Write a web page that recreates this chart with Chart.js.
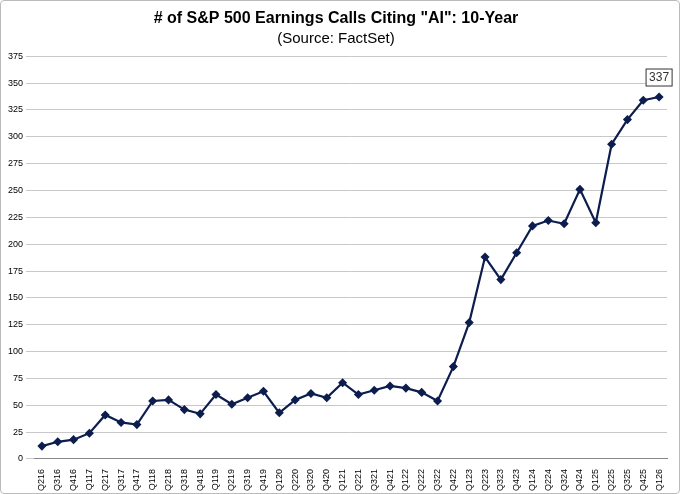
<!DOCTYPE html>
<html>
<head>
<script src="https://cdn.jsdelivr.net/npm/chart.js@4"></script>
<style>
  body { margin: 0; background: #fff; }
  #wrap { width: 678px; height: 492px; border: 1px solid #bbb; border-radius: 4px; }
</style>
</head>
<body>
<div id="wrap"><canvas id="myChart" width="678" height="492"></canvas></div>
<script>
const quarters = ['Q216','Q316','Q416','Q117','Q217','Q317','Q417','Q118','Q218','Q318','Q418','Q119','Q219','Q319','Q419','Q120','Q220','Q320','Q420','Q121','Q221','Q321','Q421','Q122','Q222','Q322','Q422','Q123','Q223','Q323','Q423','Q124','Q224','Q324','Q424','Q125','Q225','Q325','Q425','Q126'];
const aiCalls = [12,16,18,24,41,34,32,54,55,46,42,60,51,57,63,43,55,61,57,71,60,64,68,66,62,54,86,127,188,167,192,217,222,219,251,220,293,316,334,337];

const lastLabel = {
    id: 'lastLabel',
    afterDatasetsDraw(chart) {
        const ctx = chart.ctx;
        const pts = chart.getDatasetMeta(0).data;
        const p = pts[pts.length - 1];
        const txt = String(aiCalls[aiCalls.length - 1]);
        ctx.save();
        ctx.font = '12px Arial, "Liberation Sans"';
        const w = ctx.measureText(txt).width + 6;
        const x = p.x - w / 2, y = p.y - 28;
        ctx.fillStyle = '#fff';
        ctx.fillRect(x, y, w, 17);
        ctx.strokeStyle = '#333';
        ctx.lineWidth = 1;
        ctx.strokeRect(x, y, w, 17);
        ctx.fillStyle = '#333';
        ctx.textAlign = 'center';
        ctx.textBaseline = 'middle';
        ctx.fillText(txt, p.x, y + 9);
        ctx.restore();
    }
};

new Chart(document.getElementById('myChart'), {
    type: 'line',
    data: {
        labels: quarters,
        datasets: [{
            data: aiCalls,
            borderColor: '#0c1d4e',
            backgroundColor: '#0c1d4e',
            borderWidth: 2.2,
            pointStyle: 'rectRot',
            pointRadius: 3,
            tension: 0
        }]
    },
    options: {
        responsive: false,
        animation: false,
        layout: { padding: { left: 4, right: 12, top: 2, bottom: 0 } },
        plugins: {
            legend: { display: false },
            tooltip: { enabled: false },
            title: {
                display: true,
                text: ['# of S&P 500 Earnings Calls Citing "AI": 10-Year'],
                color: '#000',
                font: { family: 'Arial, "Liberation Sans"', size: 16, weight: 'bold' },
                padding: { top: 6, bottom: 0 }
            },
            subtitle: {
                display: true,
                text: '(Source: FactSet)',
                color: '#000',
                font: { family: 'Arial, "Liberation Sans"', size: 15 },
                padding: { top: 2, bottom: 8 }
            }
        },
        scales: {
            x: {
                offset: true,
                grid: { display: false },
                border: { color: '#888' },
                ticks: {
                    color: '#000',
                    padding: 2,
                    maxRotation: 90, minRotation: 90,
                    autoSkip: false,
                    font: { family: 'Arial, "Liberation Sans"', size: 9 }
                }
            },
            y: {
                min: 0, max: 375,
                grid: { color: '#c8c8c8' },
                border: { display: false },
                ticks: {
                    stepSize: 25,
                    color: '#000',
                    font: { family: 'Arial, "Liberation Sans"', size: 9 }
                }
            }
        }
    },
    plugins: [lastLabel]
});
</script>
</body>
</html>
